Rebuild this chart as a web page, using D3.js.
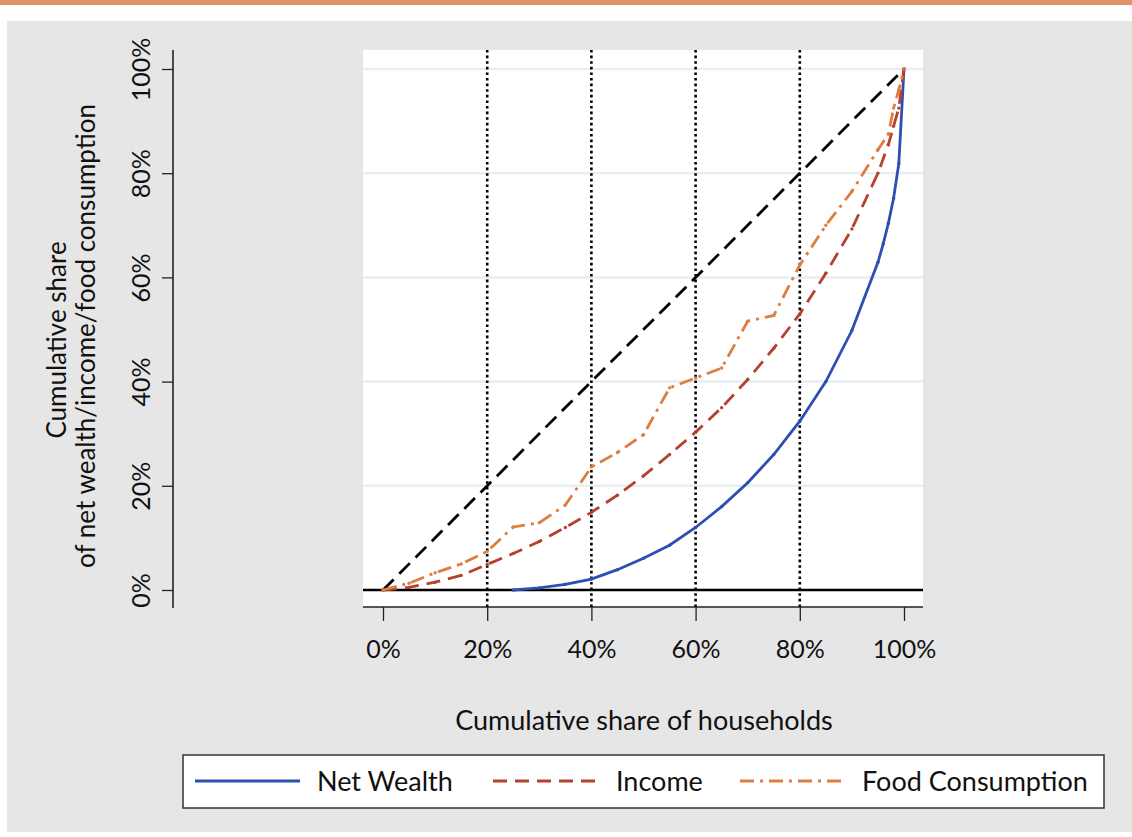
<!DOCTYPE html>
<html>
<head>
<meta charset="utf-8">
<script src="https://cdn.jsdelivr.net/npm/d3@7"></script>
<style>
  body { margin: 0; background: #fff; }
  text { font-family: Lato, "Open Sans", sans-serif; fill: #111; }
</style>
</head>
<body>
<div id="chart-area"></div>
<script>
// cumulative share of households (%)
var wealthShares = [25, 30, 35, 40, 45, 50, 55, 60, 65, 70, 75, 80, 85, 90, 95, 96, 97, 98, 99, 100];
var netWealth    = [0, 0.4, 1.1, 2.1, 3.9, 6.1, 8.6, 12, 16, 20.6, 26, 32.4, 40, 49.8, 62.9, 66.4, 70.4, 75.2, 81.8, 100];

var otherShares = [0, 5, 10, 15, 20, 25, 30, 35, 40, 45, 50, 55, 60, 65, 70, 75, 80, 85, 90, 95, 97, 98, 99, 100];
var income      = [0, 0.5, 1.5, 2.8, 4.9, 7, 9.3, 12, 14.9, 18.2, 21.9, 26, 30.3, 35, 40.4, 46.4, 53, 60.8, 69.3, 80, 85.5, 89, 92.5, 100];
var food        = [0, 1.3, 3.3, 5, 7.4, 12.1, 12.9, 16.3, 23.6, 26.4, 29.8, 38.8, 40.7, 42.6, 51.6, 52.7, 62.4, 70, 76.5, 84.5, 87.5, 92.5, 96, 100];

var tickValues = [0, 20, 40, 60, 80, 100];
var quintiles = [20, 40, 60, 80];
var seriesNames = ["Net Wealth", "Income", "Food Consumption"];

var W = 1132, H = 837;
var svg = d3.select("#chart-area").append("svg")
    .attr("width", W).attr("height", H);

// frame
svg.append("rect").attr("x", 0).attr("y", 0).attr("width", W).attr("height", 5).attr("fill", "#de946a");
svg.append("rect").attr("x", 7).attr("y", 21).attr("width", W - 7).attr("height", 811).attr("fill", "#e6e6e6");

var x = d3.scaleLinear().domain([0, 100]).range([383, 904]);
var y = d3.scaleLinear().domain([0, 100]).range([590, 69]);

var plotL = 363, plotR = 923, plotT = 50, plotB = 607;

svg.append("rect")
    .attr("x", plotL).attr("y", plotT)
    .attr("width", plotR - plotL).attr("height", plotB - plotT)
    .attr("fill", "#fff");

// gridlines
svg.selectAll(".grid").data(tickValues.slice(1)).enter()
  .append("line")
    .attr("x1", plotL).attr("x2", plotR)
    .attr("y1", function(d){ return y(d); })
    .attr("y2", function(d){ return y(d); })
    .attr("stroke", "#e6eff1").attr("stroke-width", 2.5);

// vertical dotted quintile lines
svg.selectAll(".vq").data(quintiles).enter()
  .append("line")
    .attr("x1", function(d){ return x(d); })
    .attr("x2", function(d){ return x(d); })
    .attr("y1", plotT).attr("y2", plotB)
    .attr("stroke", "#000").attr("stroke-width", 2.6)
    .attr("stroke-dasharray", "2.6,3");

// zero line
svg.append("line")
    .attr("x1", plotL).attr("x2", plotR)
    .attr("y1", y(0)).attr("y2", y(0))
    .attr("stroke", "#000").attr("stroke-width", 2.6);

// equality line
svg.append("line")
    .attr("x1", x(0)).attr("y1", y(0))
    .attr("x2", x(100)).attr("y2", y(100))
    .attr("stroke", "#000").attr("stroke-width", 2.8)
    .attr("stroke-dasharray", "15,8");

var line = d3.line()
    .x(function(d){ return x(d[0]); })
    .y(function(d){ return y(d[1]); });

var series = [
  { xs: wealthShares, ys: netWealth, color: "#2d4fb2", dash: null },
  { xs: otherShares, ys: income, color: "#b5422f", dash: "14,8" },
  { xs: otherShares, ys: food, color: "#dd7d3e", dash: "14,6,3,6" }
];

series.forEach(function(s){
    var pts = s.xs.map(function(v, i){ return [v, s.ys[i]]; });
    svg.append("path")
        .datum(pts)
        .attr("d", line)
        .attr("fill", "none")
        .attr("stroke", s.color)
        .attr("stroke-width", 2.8)
        .attr("stroke-dasharray", s.dash);
    svg.append("g").selectAll("circle").data(pts).enter()
      .append("circle")
        .attr("cx", function(d){ return x(d[0]); })
        .attr("cy", function(d){ return y(d[1]); })
        .attr("r", 1.7)
        .attr("fill", s.color);
});

// X axis
var xAxis = svg.append("g")
    .attr("transform", "translate(0," + plotB + ")")
    .call(d3.axisBottom(x).tickValues(tickValues).tickSize(14).tickFormat(""));
xAxis.select(".domain").attr("d", "M" + plotL + ",0H" + plotR).attr("stroke", "#222").attr("stroke-width", 1.6);
xAxis.selectAll(".tick line").attr("stroke", "#222").attr("stroke-width", 1.3);
xAxis.selectAll(".tick").append("text")
    .attr("y", 51)
    .attr("text-anchor", "middle")
    .attr("font-size", 25)
    .style("font-family", "Lato, 'Open Sans', sans-serif")
    .attr("fill", "#111")
    .text(function(d){ return d + "%"; });

// Y axis
var yAxis = svg.append("g")
    .attr("transform", "translate(173,0)")
    .call(d3.axisLeft(y).tickValues(tickValues).tickSize(11).tickFormat(""));
yAxis.select(".domain").attr("d", "M0," + plotT + "V" + (plotB + 1)).attr("stroke", "#222").attr("stroke-width", 1.6);
yAxis.selectAll(".tick line").attr("stroke", "#222").attr("stroke-width", 1.3);
yAxis.selectAll(".tick").append("text")
    .attr("transform", "translate(-23,0) rotate(-90)")
    .attr("text-anchor", "middle")
    .attr("font-size", 25)
    .style("font-family", "Lato, 'Open Sans', sans-serif")
    .attr("fill", "#111")
    .text(function(d){ return d + "%"; });

// axis titles
svg.append("text")
    .attr("x", 644).attr("y", 730)
    .attr("text-anchor", "middle")
    .attr("font-size", 27)
    .text("Cumulative share of households");

svg.append("text")
    .attr("transform", "translate(66,340) rotate(-90)")
    .attr("text-anchor", "middle")
    .attr("font-size", 26)
    .text("Cumulative share");
svg.append("text")
    .attr("transform", "translate(95,336) rotate(-90)")
    .attr("text-anchor", "middle")
    .attr("font-size", 26)
    .text("of net wealth/income/food consumption");

// legend
svg.append("rect")
    .attr("x", 183).attr("y", 755)
    .attr("width", 921).attr("height", 53)
    .attr("fill", "#fff").attr("stroke", "#333").attr("stroke-width", 1.5);

var legendPos = [
  { x1: 195, x2: 300, tx: 317 },
  { x1: 493, x2: 601, tx: 616 },
  { x1: 740, x2: 847, tx: 862 }
];
series.forEach(function(s, i){
    var p = legendPos[i];
    svg.append("line")
        .attr("x1", p.x1).attr("x2", p.x2)
        .attr("y1", 781).attr("y2", 781)
        .attr("stroke", s.color).attr("stroke-width", 2.8)
        .attr("stroke-dasharray", s.dash);
    svg.append("text")
        .attr("x", p.tx).attr("y", 791)
        .attr("font-size", 27)
        .text(seriesNames[i]);
});
</script>
</body>
</html>
